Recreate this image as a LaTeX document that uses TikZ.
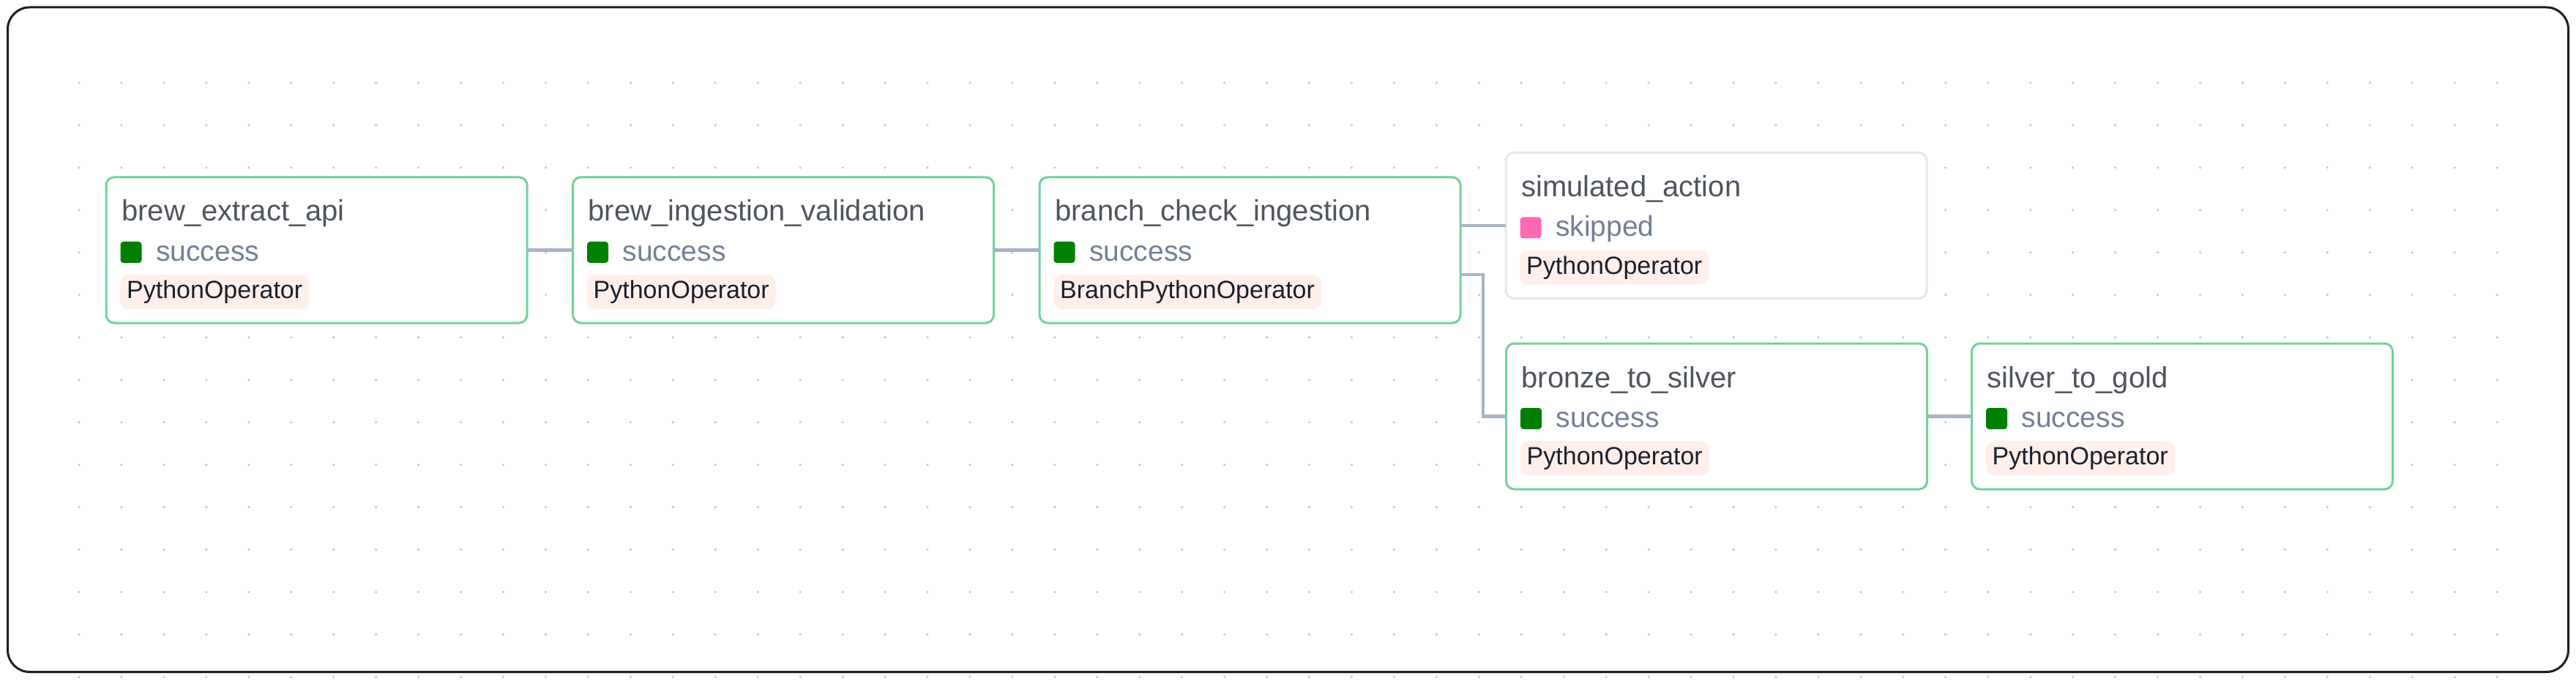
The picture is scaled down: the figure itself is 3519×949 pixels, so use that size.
\documentclass[tikz,border=0pt]{standalone}
\usepackage{fontspec}
\setmainfont{Liberation Sans}
\usetikzlibrary{calc}
\definecolor{okgreen}{HTML}{008000}
\definecolor{skippink}{HTML}{FF69B4}
\definecolor{okborder}{HTML}{72D29C}
\definecolor{skipborder}{HTML}{E2E8F0}
\definecolor{edgec}{HTML}{A7B3C5}
\definecolor{titlec}{HTML}{4F555E}
\definecolor{statec}{HTML}{718096}
\definecolor{badgebg}{HTML}{FFEFEB}
\definecolor{badgetx}{HTML}{1A202C}
\definecolor{dotc}{HTML}{C4C4C8}
\definecolor{framec}{HTML}{1E1E1E}
\tikzset{
 taskbox/.style={draw=okborder, line width=3pt, fill=white, rounded corners=11pt, minimum width=575pt, minimum height=199pt, inner sep=0pt, outer sep=0pt},
 skipbox/.style={taskbox, draw=skipborder},
 tasktitle/.style={anchor=base west, inner sep=0pt, text=titlec, font=\fontsize{40}{48}\selectfont},
 statesq/.style={minimum size=29pt, inner sep=0pt, rounded corners=4pt},
 statetext/.style={anchor=base west, inner sep=0pt, text=statec, font=\fontsize{39}{47}\selectfont},
 badge/.style={anchor=north west, fill=badgebg, rounded corners=11pt, inner xsep=9pt, inner ysep=7.5pt, text height=25pt, text depth=7pt, text=badgetx, font=\fontsize{34}{40}\selectfont},
 edge/.style={draw=edgec, line width=4.5pt},
 frame/.style={draw=framec, line width=3pt, rounded corners=30pt},
}
\newcommand{\tasknode}[7]{%
 \node[#3] (#1) at (#2) {};
 \node[tasktitle] (#1-title) at ($(#1.north west)+(21,60)$) {#4};
 \node[statesq, fill=#5] (#1-sq) at ($(#1.north west)+(34,102.5)$) {};
 \node[statetext] (#1-state) at ($(#1.north west)+(68,114)$) {#6};
 \node[badge] (#1-op) at ($(#1.north west)+(19,133)$) {#7};
}
\begin{document}
\begin{tikzpicture}[x=1pt,y=-1pt]
\fill[white] (0,0) rectangle (3519,949);
\useasboundingbox (0,0) rectangle (3519,949);
% dotted grid
\foreach \i in {0,...,57}{
 \foreach \j in {0,...,14}{
  \fill[dotc] (108+57.95*\i, 113+57.95*\j) circle (1.7);
 }
}
% outer frame
\draw[frame] (10.5,10) rectangle (3508.5,917.5);
% tasks
\tasknode{n1}{432.5,341.5}{taskbox}{brew\_extract\_api}{okgreen}{success}{PythonOperator}
\tasknode{n2}{1070,341.5}{taskbox}{brew\_ingestion\_validation}{okgreen}{success}{PythonOperator}
\tasknode{n3}{1707.5,341.5}{taskbox}{branch\_check\_ingestion}{okgreen}{success}{BranchPythonOperator}
\tasknode{n4}{2344.5,308}{skipbox}{simulated\_action}{skippink}{skipped}{PythonOperator}
\tasknode{n5}{2345,568.5}{taskbox}{bronze\_to\_silver}{okgreen}{success}{PythonOperator}
\tasknode{n6}{2981,568.5}{taskbox}{silver\_to\_gold}{okgreen}{success}{PythonOperator}
% edges
\draw[edge] (n1.east) -- (n2.west);
\draw[edge] (n2.east) -- (n3.west);
\draw[edge] (n3.east |- n4.west) -- (n4.west);
\draw[edge] ($(n3.east)+(0,33.5)$) -- ++(31,0) |- (n5.west);
\draw[edge] (n5.east) -- (n6.west);
\end{tikzpicture}
\end{document}
